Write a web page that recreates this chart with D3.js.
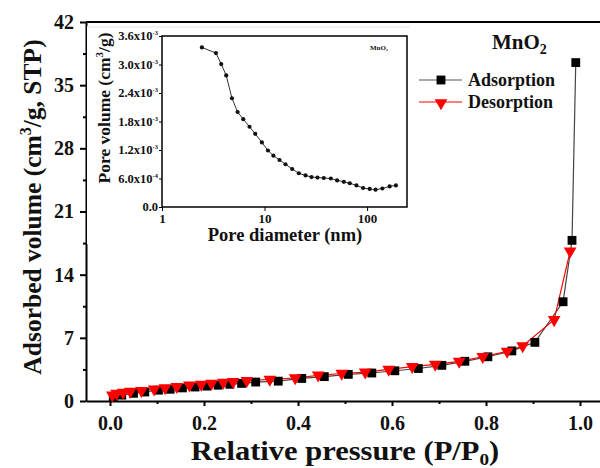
<!DOCTYPE html>
<html lang="en">
<head>
  <meta charset="UTF-8">
  <title>MnO2 isotherm</title>
  <style>
    body { margin: 0; background: #fff; }
    svg { display: block; }
    text { font-family: "Liberation Serif", "Times New Roman", serif; font-weight: bold; fill: #111; }
  </style>
</head>
<body>
  <div class="container"></div>
  <script src="https://d3js.org/d3.v7.min.js"></script>
  <script>
    // adsorption branch (P/P0, volume)
    const adsP = [0.007, 0.025, 0.05, 0.074, 0.103, 0.128, 0.154, 0.181, 0.206, 0.23, 0.255, 0.28, 0.31,
      0.358, 0.408, 0.456, 0.507, 0.557, 0.606, 0.656, 0.706, 0.755, 0.804, 0.855, 0.904, 0.964, 0.983, 0.991]
    const adsV = [0.45, 0.65, 0.85, 1.0, 1.2, 1.3, 1.45, 1.55, 1.65, 1.75, 1.85, 1.95, 2.1,
      2.2, 2.5, 2.7, 2.95, 3.1, 3.35, 3.6, 3.95, 4.4, 4.9, 5.55, 6.5, 11.0, 17.8, 37.5]
    // desorption branch
    const desP = [0.005, 0.014, 0.028, 0.043, 0.067, 0.094, 0.117, 0.142, 0.169, 0.194, 0.216, 0.241, 0.262, 0.291,
      0.34, 0.394, 0.443, 0.493, 0.543, 0.593, 0.643, 0.692, 0.743, 0.793, 0.845, 0.878, 0.945, 0.979]
    const desV = [0.65, 0.85, 0.95, 1.05, 1.15, 1.3, 1.45, 1.6, 1.75, 1.85, 1.95, 2.05, 2.15, 2.25,
      2.4, 2.55, 2.85, 3.05, 3.2, 3.5, 3.8, 4.05, 4.4, 4.9, 5.5, 6.1, 9.0, 16.6]

    // inset: pore size distribution
    const poreD = [2.45, 3.36, 3.78, 4.23, 4.81, 5.46, 6.2, 7.14, 8.11, 9.42, 10.8, 12.2, 14.0, 16.0, 18.6, 21.6,
      25.1, 28.7, 32.8, 37.8, 44.3, 51, 59.3, 67.8, 78.7, 91.4, 106, 121, 141, 166, 191]
    const poreV = [3.36, 3.24, 3.01, 2.77, 2.29, 2.0, 1.85, 1.69, 1.54, 1.36, 1.19, 1.08, 0.99, 0.9, 0.8, 0.71,
      0.665, 0.63, 0.62, 0.61, 0.6, 0.56, 0.53, 0.5, 0.455, 0.4, 0.38, 0.364, 0.39, 0.434, 0.455].map(v => v * 1e-3)

    const xTicks = [0, 0.2, 0.4, 0.6, 0.8, 1.0]
    const yTicks = [0, 7, 14, 21, 28, 35, 42]
    const insetYTicks = [0, 0.6e-3, 1.2e-3, 1.8e-3, 2.4e-3, 3.0e-3, 3.6e-3]
    const insetYLabels = [['0.0', ''], ['6.0x10', '-4'], ['1.2x10', '-3'], ['1.8x10', '-3'], ['2.4x10', '-3'], ['3.0x10', '-3'], ['3.6x10', '-3']]
    const insetXTicks = [1, 10, 100]

    const W = 600, H = 468
    const svg = d3.select('.container').append('svg').attr('width', W).attr('height', H)

    const x = d3.scaleLinear().domain([-0.05106, 1.04255]).range([86, 600])
    const y = d3.scaleLinear().domain([0, 42]).range([401, 22])

    // x axis
    const gx = svg.append('g').attr('transform', `translate(0, ${y(0)})`)
      .call(d3.axisBottom(x).tickValues(xTicks).tickFormat(d3.format('.1f')).tickSize(5).tickSizeOuter(0).tickPadding(10))
    gx.selectAll('.tick text').style('font-size', '20px')
    gx.selectAll('.tick line, .domain').attr('stroke', '#000').attr('stroke-width', 2)
    svg.append('g').attr('transform', `translate(0, ${y(0)})`)
      .call(d3.axisBottom(x).tickValues([0.1, 0.3, 0.5, 0.7, 0.9]).tickFormat('').tickSize(3).tickSizeOuter(0))
      .call(g => g.select('.domain').remove())
      .selectAll('line').attr('stroke-width', 2)

    // y axis
    const gy = svg.append('g').attr('transform', `translate(${x.range()[0]}, 0)`)
      .call(d3.axisLeft(y).tickValues(yTicks).tickSize(6).tickSizeOuter(0).tickPadding(6))
    gy.selectAll('.tick text').style('font-size', '20px')
    gy.selectAll('.tick line, .domain').attr('stroke', '#000').attr('stroke-width', 2)
    svg.append('g').attr('transform', `translate(${x.range()[0]}, 0)`)
      .call(d3.axisLeft(y).tickValues([3.5, 10.5, 17.5, 24.5, 31.5, 38.5]).tickFormat('').tickSize(3).tickSizeOuter(0))
      .call(g => g.select('.domain').remove())
      .selectAll('line').attr('stroke-width', 2)

    // top frame
    svg.append('line').attr('x1', 86).attr('x2', W).attr('y1', y(42)).attr('y2', y(42))
      .attr('stroke', '#000').attr('stroke-width', 2)

    // axis titles
    const xt = svg.append('text').attr('transform', 'translate(345, 460) scale(1.13, 1)')
      .attr('text-anchor', 'middle').style('font-size', '27px')
    xt.append('tspan').text('Relative pressure (P/P')
    xt.append('tspan').text('0').attr('dy', 5).style('font-size', '17px')
    xt.append('tspan').text(')').attr('dy', -5)

    const yt = svg.append('text').attr('transform', 'translate(41, 207) rotate(-90)').attr('text-anchor', 'middle').style('font-size', '25.5px')
    yt.append('tspan').text('Adsorbed volume (cm')
    yt.append('tspan').text('3').attr('dy', -10).style('font-size', '16px')
    yt.append('tspan').text('/g, STP)').attr('dy', 10)

    // isotherm lines and markers
    const ads = adsP.map((p, i) => [p, adsV[i]])
    const des = desP.map((p, i) => [p, desV[i]])
    const line = d3.line().x(d => x(d[0])).y(d => y(d[1]))

    svg.append('path').datum(ads).attr('d', line).attr('fill', 'none').attr('stroke', '#444').attr('stroke-width', 1.2)
    svg.append('path').datum(des).attr('d', line).attr('fill', 'none').attr('stroke', 'red').attr('stroke-width', 1.2)

    const sq = d3.symbol().type(d3.symbolSquare).size(78)
    const tri = d3.symbol().type(d3.symbolTriangle).size(70)
    svg.append('g').selectAll('path').data(ads).join('path')
      .attr('d', sq).attr('transform', d => `translate(${x(d[0])}, ${y(d[1])})`).attr('fill', '#000')
    svg.append('g').selectAll('path').data(des).join('path')
      .attr('d', tri).attr('transform', d => `translate(${x(d[0])}, ${y(d[1])}) rotate(180)`).attr('fill', 'red')

    // legend
    const mt = svg.append('text').attr('x', 492).attr('y', 49).style('font-size', '21px')
    mt.append('tspan').text('MnO')
    mt.append('tspan').text('2').attr('dy', 5).style('font-size', '14px')

    const legend = [['Adsorption', '#555', 'sq', 80], ['Desorption', 'red', 'tri', 102]]
    legend.forEach(([name, col, m, ly]) => {
      svg.append('line').attr('x1', 419).attr('x2', 462).attr('y1', ly).attr('y2', ly).attr('stroke', col).attr('stroke-width', 1.2)
      if (m === 'sq') svg.append('path').attr('d', sq).attr('transform', `translate(441, ${ly})`).attr('fill', '#000')
      else svg.append('path').attr('d', tri).attr('transform', `translate(441, ${ly + 1}) rotate(180)`).attr('fill', 'red')
      svg.append('text').attr('x', 468).attr('y', ly + 6).style('font-size', '18px').text(name)
    })

    // inset (pasted picture with white background)
    svg.append('rect').attr('x', 87).attr('y', 26).attr('width', 325).attr('height', 218).attr('fill', '#fff')
    svg.append('line').attr('x1', 87).attr('x2', 410).attr('y1', 27).attr('y2', 27).attr('stroke', '#e2e2e2')

    const xi = d3.scaleLog().domain([1, 245]).range([162, 407])
    const yi = d3.scaleLinear().domain([0, 3.6e-3]).range([207, 36])

    const gxi = svg.append('g').attr('transform', `translate(0, 207)`)
      .call(d3.axisBottom(xi).tickValues(insetXTicks).tickFormat(d3.format('d')).tickSize(4).tickSizeOuter(0).tickPadding(3))
    gxi.selectAll('.tick text').style('font-size', '13px')
    gxi.select('.domain').remove()

    const gyi = svg.append('g').attr('transform', `translate(162, 0)`)
      .call(d3.axisLeft(yi).tickValues(insetYTicks).tickFormat('').tickSize(3).tickSizeOuter(0))
    gyi.select('.domain').remove()
    insetYTicks.forEach((v, i) => {
      const t = svg.append('text').attr('x', 158).attr('y', yi(v) + 4).attr('text-anchor', 'end').style('font-size', '12.5px')
      t.append('tspan').text(insetYLabels[i][0])
      if (insetYLabels[i][1]) t.append('tspan').text(insetYLabels[i][1]).attr('dy', -5).style('font-size', '6.5px')
    })

    svg.append('rect').attr('x', 162).attr('y', 36).attr('width', 245).attr('height', 171)
      .attr('fill', 'none').attr('stroke', '#000').attr('stroke-width', 1.5)

    const pore = poreD.map((d, i) => [d, poreV[i]])
    svg.append('path').datum(pore).attr('d', d3.line().x(d => xi(d[0])).y(d => yi(d[1])))
      .attr('fill', 'none').attr('stroke', '#333').attr('stroke-width', 1)
    svg.append('g').selectAll('circle').data(pore).join('circle')
      .attr('cx', d => xi(d[0])).attr('cy', d => yi(d[1])).attr('r', 2.1).attr('fill', '#111')

    svg.append('text').attr('x', 370).attr('y', 50).style('font-size', '7px').text('MnO₂')

    svg.append('text').attr('x', 285).attr('y', 241).attr('text-anchor', 'middle').style('font-size', '18.5px').text('Pore diameter (nm)')
    const iyt = svg.append('text').attr('transform', 'translate(110, 108) rotate(-90)').attr('text-anchor', 'middle').style('font-size', '17.5px')
    iyt.append('tspan').text('Pore volume (cm')
    iyt.append('tspan').text('3').attr('dy', -7).style('font-size', '11px')
    iyt.append('tspan').text('/g)').attr('dy', 7)
  </script>
</body>
</html>
